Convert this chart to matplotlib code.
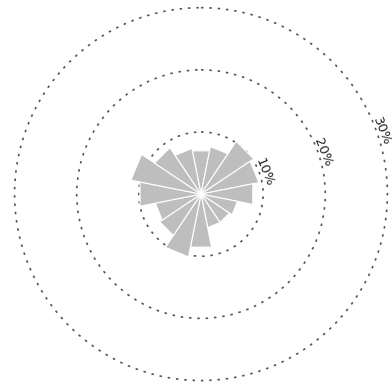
import numpy as np
import matplotlib
matplotlib.use("Agg")
import matplotlib.pyplot as plt
from matplotlib.patches import Rectangle

directions = ["N", "NNE", "NE", "ENE", "E", "ESE", "SE", "SSE",
              "S", "SSW", "SW", "WSW", "W", "WNW", "NW", "NNW"]
freq_pct = [7.1, 7.8, 10.2, 9.5, 8.5, 6.0, 5.5, 5.5,
            8.7, 10.3, 8.0, 7.5, 10.0, 11.5, 9.0, 7.5]
ring_values = [10, 20, 30]
ring_labels = ["10%", "20%", "30%"]

fig = plt.figure(figsize=(3.92, 3.84), dpi=100)
ax = fig.add_axes([0.037, 0.009, 0.9515, 0.971], projection="polar")
ax.set_theta_zero_location("N")
ax.set_theta_direction(-1)

n = len(directions)
width = 2 * np.pi / n
for i, val in enumerate(freq_pct):
    th = np.deg2rad(i * 360.0 / n)
    patch = Rectangle((th - width / 2, 0), width, val, facecolor="#bebebe",
                      edgecolor="white", linewidth=0.8, zorder=2)
    ax.add_patch(patch)

ax.set_ylim(0, 30)
ax.set_yticks(ring_values)
ax.set_yticklabels([])
ax.set_xticks([])
ax.yaxis.grid(True, linestyle=(0, (1.5, 3.5)), color="#555555", linewidth=1.2)
ax.xaxis.grid(False)
for gl in ax.yaxis.get_gridlines():
    gl.set_clip_on(False)
ax.spines["polar"].set_visible(False)

label_angle = np.deg2rad(71)
for rv, lab in zip(ring_values, ring_labels):
    ax.text(label_angle, rv + 0.8, lab, rotation=-68, rotation_mode="anchor",
            ha="center", va="center", fontsize=9.5, color="#222222",
            zorder=5, clip_on=False)

fig.savefig("out.png", dpi=100)
